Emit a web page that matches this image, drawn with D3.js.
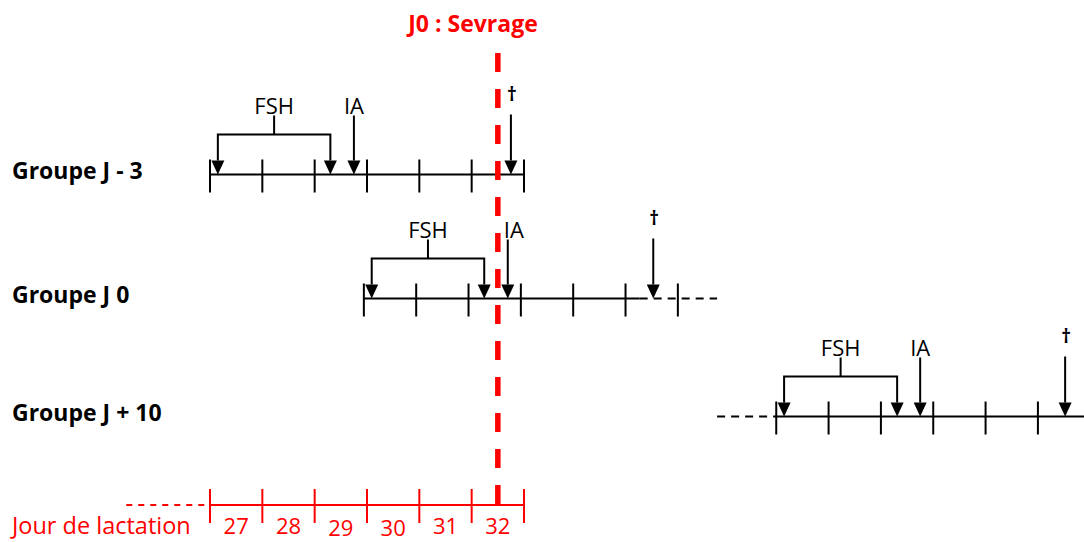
<!DOCTYPE html>
<html>
<head>
<meta charset="utf-8">
<script src="https://cdn.jsdelivr.net/npm/d3@7"></script>
<style>
  html, body { margin: 0; padding: 0; background: #fff; }
  svg { display: block; }
</style>
</head>
<body>
<svg id="chart" width="1084" height="542"></svg>
<script>
// ---------- DATA ----------
const groupLabels = ["Groupe J - 3", "Groupe J 0", "Groupe J + 10"];
// row start (day of lactation at the first tick)
const rowStart = [26.5, 29.44, 37.32];
// number of day segments with ticks drawn on each row
const rowSegments = [6, 6, 5];
// event positions (in days, relative to row start)
const fshStart = [0.15, 0.15, 0.15];
const fshEnd = [2.3, 2.3, 2.31];
const iaDay = [2.75, 2.75, 2.75];
const deathDay = [5.75, 5.53, 5.52];
// solid line extent (relative days) and dashed extensions
const solidFrom = [0, 0, 0];
const solidTo = [6, 5.27, 5.9];
const dashBefore = [null, null, -1.13];
const dashAfter = [null, [5.27, 6.75], null];
// bottom axis: lactation days
const lactDays = [27, 28, 29, 30, 31, 32];
const axisLabel = "Jour de lactation";
const weaningDay = 32;
const weaningLabel = "J0 : Sevrage";
const eventLabels = { fsh: "FSH", ia: "IA", death: "\u2020" };

// ---------- LAYOUT ----------
const svg = d3.select("#chart");
const x = d3.scaleLinear().domain([26.5, 32.5]).range([210, 524]);
const rowY = d3.scaleOrdinal().domain(groupLabels).range([174.5, 298.5, 416.5]);
const axisY = 505;
const black = "#000";
const red = "#ff0000";
const font = "'Open Sans', 'Liberation Sans', sans-serif";
const headH = 14, headW = 6.5;

function arrowHead(g, cx, tipY, color) {
  g.append("path")
    .attr("d", `M${cx - headW},${tipY - headH}L${cx + headW},${tipY - headH}L${cx},${tipY}Z`)
    .attr("fill", color);
}

groupLabels.forEach((lab, i) => {
  const L = rowY(lab);
  const s = rowStart[i];
  const g = svg.append("g");
  // group label
  g.append("text").attr("x", 12).attr("y", L + 4)
    .attr("font-family", font).attr("font-weight", "bold").attr("font-size", 23)
    .attr("fill", black).text(lab);
  // solid line
  g.append("line").attr("x1", x(s + solidFrom[i])).attr("x2", x(s + solidTo[i]))
    .attr("y1", L).attr("y2", L).attr("stroke", black).attr("stroke-width", 2);
  if (dashBefore[i] !== null) {
    g.append("line").attr("x1", x(s + dashBefore[i])).attr("x2", x(s))
      .attr("y1", L).attr("y2", L).attr("stroke", black).attr("stroke-width", 2)
      .attr("stroke-dasharray", "8,6");
  }
  if (dashAfter[i] !== null) {
    g.append("line").attr("x1", x(s + dashAfter[i][0])).attr("x2", x(s + dashAfter[i][1]))
      .attr("y1", L).attr("y2", L).attr("stroke", black).attr("stroke-width", 2)
      .attr("stroke-dasharray", "8,6");
  }
  // ticks
  d3.range(rowSegments[i] + 1).forEach(k => {
    g.append("line").attr("x1", x(s + k)).attr("x2", x(s + k))
      .attr("y1", L - 15).attr("y2", L + 18).attr("stroke", black).attr("stroke-width", 2);
  });
  // FSH bracket
  const xa = x(s + fshStart[i]), xb = x(s + fshEnd[i]), xm = (xa + xb) / 2;
  const by = L - 40, topY = L - 59;
  g.append("path")
    .attr("d", `M${xa},${L - headH}V${by}H${xb}V${L - headH}M${xm},${by}V${topY}`)
    .attr("fill", "none").attr("stroke", black).attr("stroke-width", 2);
  arrowHead(g, xa, L, black);
  arrowHead(g, xb, L, black);
  g.append("text").attr("x", xm).attr("y", L - 61).attr("text-anchor", "middle")
    .attr("font-family", font).attr("font-size", 22).attr("fill", black).text(eventLabels.fsh);
  // IA arrow
  const xi = x(s + iaDay[i]);
  g.append("line").attr("x1", xi).attr("x2", xi).attr("y1", topY).attr("y2", L - headH)
    .attr("stroke", black).attr("stroke-width", 2);
  arrowHead(g, xi, L, black);
  g.append("text").attr("x", xi + (i === 1 ? 6 : 0)).attr("y", L - 61).attr("text-anchor", "middle")
    .attr("font-family", font).attr("font-size", 22).attr("fill", black).text(eventLabels.ia);
  // death arrow
  const xd = x(s + deathDay[i]);
  g.append("line").attr("x1", xd).attr("x2", xd).attr("y1", topY - 1).attr("y2", L - headH)
    .attr("stroke", black).attr("stroke-width", 2);
  arrowHead(g, xd, L, black);
  g.append("text").attr("x", xd + 1).attr("y", L - 74).attr("text-anchor", "middle")
    .attr("font-family", font).attr("font-weight", "bold").attr("font-size", 19)
    .attr("fill", black).text(eventLabels.death);
});

// ---------- BOTTOM AXIS (lactation days) ----------
const ax = svg.append("g");
ax.append("line").attr("x1", x(24.9)).attr("x2", x(26.45)).attr("y1", axisY).attr("y2", axisY)
  .attr("stroke", red).attr("stroke-width", 2).attr("stroke-dasharray", "6,6");
ax.append("line").attr("x1", x(26.5)).attr("x2", x(32.5)).attr("y1", axisY).attr("y2", axisY)
  .attr("stroke", red).attr("stroke-width", 2);
const bounds = lactDays.map(d => d - 0.5).concat([lactDays[lactDays.length - 1] + 0.5]);
ax.selectAll("line.tk").data(bounds).enter().append("line").attr("class", "tk")
  .attr("x1", d => x(d)).attr("x2", d => x(d))
  .attr("y1", axisY - 16).attr("y2", axisY + 18)
  .attr("stroke", red).attr("stroke-width", 2);
ax.selectAll("text.lb").data(lactDays).enter().append("text").attr("class", "lb")
  .attr("x", d => x(d)).attr("y", (d, i) => axisY + 29 + ((i === 2 || i === 3) ? 1.5 : 0))
  .attr("text-anchor", "middle")
  .attr("font-family", font).attr("font-size", 22).attr("fill", red).text(d => d);
ax.append("text").attr("x", 12).attr("y", axisY + 29)
  .attr("font-family", font).attr("font-size", 23.5).attr("fill", red).text(axisLabel);

// ---------- WEANING LINE ----------
svg.append("line").attr("x1", x(weaningDay)).attr("x2", x(weaningDay))
  .attr("y1", 53).attr("y2", 512)
  .attr("stroke", red).attr("stroke-width", 5.5).attr("stroke-dasharray", "19,17");
svg.append("text").attr("x", 473).attr("y", 32).attr("text-anchor", "middle")
  .attr("font-family", font).attr("font-weight", "bold").attr("font-size", 23)
  .attr("fill", red).text(weaningLabel);
</script>
</body>
</html>
